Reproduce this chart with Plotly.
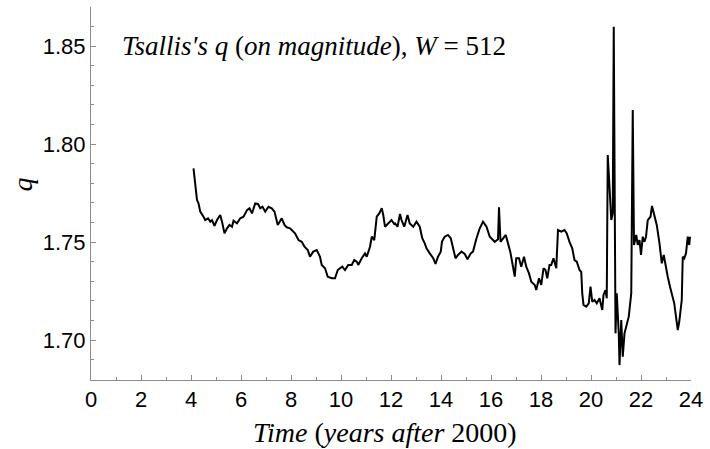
import plotly.graph_objects as go

years = [4.10, 4.24, 4.30, 4.37, 4.50, 4.57, 4.68, 4.77, 4.84, 4.94, 5.04, 5.17, 5.24, 5.34, 5.44, 5.54, 5.64, 5.70, 5.84, 5.97,
         6.10, 6.24, 6.34, 6.44, 6.57, 6.68, 6.77, 6.86, 6.97, 7.10, 7.23, 7.34, 7.47, 7.63, 7.74, 7.83, 7.96, 8.10,
         8.16, 8.30, 8.43, 8.54, 8.67, 8.76, 8.89, 9.03, 9.16, 9.23, 9.36, 9.47, 9.63, 9.76, 9.87, 9.96, 10.05, 10.16,
         10.29, 10.43, 10.53, 10.63, 10.69, 10.83, 10.96, 11.03, 11.16, 11.23, 11.33, 11.43, 11.53, 11.63, 11.69, 11.76,
         11.89, 12.02, 12.13, 12.16, 12.26, 12.36, 12.42, 12.53, 12.66, 12.75, 12.89, 13.02, 13.15, 13.25, 13.35, 13.42,
         13.55, 13.69, 13.78, 13.88, 13.99, 14.04, 14.15, 14.28, 14.39, 14.48, 14.58, 14.68, 14.82, 14.95, 15.06, 15.19,
         15.28, 15.42, 15.55, 15.68, 15.82, 15.95, 16.08, 16.15, 16.28, 16.32, 16.38, 16.48, 16.59, 16.68, 16.77, 16.88,
         16.95, 17.01, 17.12, 17.21, 17.32, 17.41, 17.52, 17.61, 17.75, 17.81, 17.92, 18.01, 18.10, 18.18, 18.25, 18.34,
         18.41, 18.50, 18.61, 18.68, 18.81, 18.94, 19.03, 19.14, 19.25, 19.34, 19.43, 19.54, 19.61, 19.65, 19.70, 19.81,
         19.91, 19.98, 20.05, 20.14, 20.23, 20.34, 20.45, 20.50, 20.58, 20.63, 20.67, 20.74, 20.81, 20.87, 20.91, 20.98,
         21.03, 21.11, 21.14, 21.21, 21.27, 21.34, 21.41, 21.51, 21.61, 21.67, 21.72, 21.81, 21.87, 21.94, 22.00, 22.07,
         22.14, 22.20, 22.27, 22.38, 22.44, 22.54, 22.63, 22.74, 22.83, 22.91, 22.97, 23.07, 23.16, 23.24, 23.33, 23.40,
         23.47, 23.53, 23.63, 23.67, 23.73, 23.80, 23.87, 23.93, 23.96]

q_values = [1.7876, 1.7714, 1.7697, 1.7655, 1.7629, 1.7612, 1.7621, 1.7604, 1.7612, 1.7582, 1.7612, 1.7638, 1.7604, 1.7544,
            1.7570, 1.7587, 1.7578, 1.7609, 1.7595, 1.7621, 1.7629, 1.7663, 1.7672, 1.7646, 1.7697, 1.7694, 1.7672, 1.7680,
            1.7655, 1.7680, 1.7672, 1.7655, 1.7587, 1.7621, 1.7587, 1.7575, 1.7570, 1.7553,
            1.7544, 1.7510, 1.7501, 1.7476, 1.7459, 1.7425, 1.7451, 1.7459, 1.7425, 1.7383, 1.7366, 1.7323, 1.7315, 1.7315,
            1.7357, 1.7366, 1.7374, 1.7357, 1.7383, 1.7383, 1.7408, 1.7400, 1.7383, 1.7417, 1.7442, 1.7425, 1.7476, 1.7527,
            1.7510, 1.7629, 1.7646, 1.7672, 1.7638, 1.7578, 1.7595, 1.7612, 1.7592,
            1.7595, 1.7578, 1.7643, 1.7612, 1.7578, 1.7638, 1.7595, 1.7578, 1.7604, 1.7578, 1.7519, 1.7493, 1.7468, 1.7442,
            1.7417, 1.7388, 1.7425, 1.7451, 1.7502, 1.7527, 1.7536, 1.7519, 1.7468, 1.7417, 1.7434, 1.7451, 1.7439, 1.7412,
            1.7442, 1.7451, 1.7519, 1.7570, 1.7604, 1.7578, 1.7527, 1.7510,
            1.7501, 1.7514, 1.7677, 1.7501, 1.7519, 1.7536, 1.7493, 1.7451, 1.7374, 1.7323, 1.7417, 1.7417, 1.7374, 1.7425,
            1.7374, 1.7340, 1.7297, 1.7281, 1.7255, 1.7315, 1.7281, 1.7366, 1.7357, 1.7315, 1.7383, 1.7383, 1.7417, 1.7366,
            1.7561, 1.7553, 1.7561, 1.7544, 1.7501, 1.7468, 1.7408, 1.7400, 1.7357,
            1.7347, 1.7238, 1.7179, 1.7170, 1.7187, 1.7272, 1.7195, 1.7204, 1.7187, 1.7213, 1.7153, 1.7230, 1.7255, 1.7213,
            1.7944, 1.7782, 1.7612, 1.7646, 1.8598, 1.7034, 1.7238, 1.7034, 1.6872, 1.7102, 1.6915, 1.7034, 1.7068, 1.7119,
            1.7238, 1.8173, 1.7485, 1.7536, 1.7485, 1.7510, 1.7434, 1.7527, 1.7501, 1.7527, 1.7612, 1.7629, 1.7684, 1.7629,
            1.7587, 1.7493, 1.7391, 1.7434, 1.7383, 1.7323, 1.7272, 1.7238, 1.7187, 1.7119, 1.7051, 1.7093, 1.7204, 1.7425,
            1.7417, 1.7442, 1.7527, 1.7485, 1.7527]

x_ticks = [0, 2, 4, 6, 8, 10, 12, 14, 16, 18, 20, 22, 24]
y_ticks = [1.70, 1.75, 1.80, 1.85]

title_text = "<i>Tsallis′s q</i> (<i>on magnitude</i>), <i>W</i> = 512"
x_title = "<i>Time</i> (<i>years after</i> 2000)"
y_title = "<i>q</i>"

fig = go.Figure()
fig.add_trace(go.Scatter(x=years, y=q_values, mode="lines",
                         line=dict(color="black", width=2), showlegend=False))

axis_common = dict(showgrid=False, zeroline=False, showline=True, linecolor="#8c8c8c", linewidth=1,
                   ticks="inside", tickcolor="#8c8c8c", ticklen=5, tickwidth=1,
                   tickfont=dict(family="Liberation Sans, Arial", size=22, color="black"))

fig.update_xaxes(range=[0, 24], tickvals=x_ticks, ticktext=[str(v) for v in x_ticks],
                 minor=dict(dtick=1, tick0=0, ticks="inside", ticklen=3, tickcolor="#8c8c8c", showgrid=False),
                 **axis_common)
fig.update_yaxes(range=[1.6796, 1.8699], tickvals=y_ticks, ticktext=[f"{v:.2f}" for v in y_ticks],
                 minor=dict(dtick=0.01, tick0=1.70, ticks="inside", ticklen=3, tickcolor="#8c8c8c", showgrid=False),
                 **axis_common)

serif = "Liberation Serif, Times New Roman, serif"
fig.add_annotation(text=title_text, xref="paper", yref="y", x=0.049, y=1.85, xanchor="left", yanchor="middle",
                   showarrow=False, font=dict(family=serif, size=27, color="black"))
fig.add_annotation(text=x_title, xref="paper", yref="paper", x=0.49, y=-0.142, xanchor="center", yanchor="middle",
                   showarrow=False, font=dict(family=serif, size=28, color="black"))
fig.add_annotation(text=y_title, xref="paper", yref="paper", x=-0.114, y=0.523, xanchor="center", yanchor="middle",
                   textangle=-90, showarrow=False, font=dict(family=serif, size=28, color="black"))

fig.update_layout(width=710, height=449, margin=dict(l=90.5, r=18.5, t=7, b=69),
                  plot_bgcolor="white", paper_bgcolor="white")

fig.write_html("out.html", config={"displayModeBar": False},
               post_script="document.body.style.margin='0';document.body.style.padding='0';")
